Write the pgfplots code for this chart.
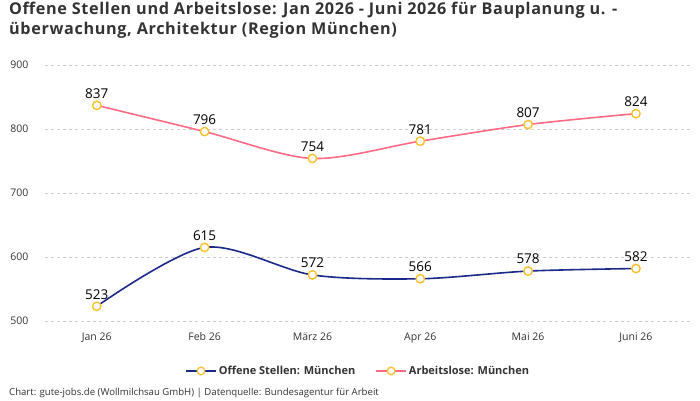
\documentclass[border=0pt]{standalone}
\usepackage{pgfplots}
\pgfplotsset{compat=1.18}
\usepackage{fontspec}
\setmainfont{Open Sans}
\newfontfamily\titlefont[LetterSpace=4]{Open Sans}
\definecolor{navy}{HTML}{1B2A8A}
\definecolor{pinkl}{HTML}{FF6B85}
\definecolor{mk}{HTML}{FBC02D}
\definecolor{gridc}{HTML}{CCCCCC}
\definecolor{txt}{HTML}{333333}
\begin{document}
\begin{tikzpicture}
\useasboundingbox (0,0) rectangle (700pt,-400pt);
\node[anchor=north west,font=\titlefont\fontsize{16.2}{19.5}\selectfont\bfseries,text=txt,align=left,inner sep=0] at (9pt,-2pt) {Offene Stellen und Arbeitslose: Jan 2026 - Juni 2026 für Bauplanung u. -\\überwachung, Architektur (Region München)};
\begin{axis}[
  at={(45pt,-321pt)}, anchor=south west,
  scale only axis, width=647pt, height=256pt,
  xmin=-0.48, xmax=5.52, ymin=500, ymax=900,
  axis line style={draw=none},
  ytick={500,600,...,900},
  xtick={0,...,5},
  xticklabels={Jan 26,Feb 26,März 26,Apr 26,Mai 26,Juni 26},
  ymajorgrids, grid style={gridc,dashed,line width=0.7pt},
  major tick length=0,
  tick label style={font=\fontsize{10.5}{12}\selectfont,text=txt},
  yticklabel style={anchor=east,xshift=-13pt},
  xticklabel style={yshift=-8pt},
  /pgf/number format/assume math mode=true,
  clip=false,
  nodes near coords, point meta=explicit symbolic,
  every node near coord/.style={font=\fontsize{13.5}{15}\selectfont,text=black,anchor=south,yshift=3pt},
  legend style={at={(0.484,-0.195)},anchor=center,draw=none,legend columns=2,font=\fontsize{11}{13}\selectfont\bfseries\color{txt},/tikz/every even column/.append style={column sep=18pt}},
  legend image code/.code={\draw[#1,mark=none] (0pt,0pt) -- (30pt,0pt); \draw[mk,fill=white,line width=1.3pt] (15pt,0pt) circle (3.8pt);},
]
\addplot[navy,line width=1.6pt,smooth,tension=0.5,mark=*,mark size=4.2pt,mark options={draw=mk,fill=white,line width=1.4pt}]
coordinates {(0,523)[523] (1,615)[615] (2,572)[572] (3,566)[566] (4,578)[578] (5,582)[582]};
\addlegendentry{Offene Stellen: München}
\addplot[pinkl,line width=1.6pt,smooth,tension=0.5,mark=*,mark size=4.2pt,mark options={draw=mk,fill=white,line width=1.4pt}]
coordinates {(0,837)[837] (1,796)[796] (2,754)[754] (3,781)[781] (4,807)[807] (5,824)[824]};
\addlegendentry{Arbeitslose: München}
\end{axis}
\node[anchor=west,font=\fontsize{9.6}{11}\selectfont,text=txt,inner sep=0] at (9pt,-393pt) {Chart: gute-jobs.de (Wollmilchsau GmbH) | Datenquelle: Bundesagentur für Arbeit};
\end{tikzpicture}
\end{document}
